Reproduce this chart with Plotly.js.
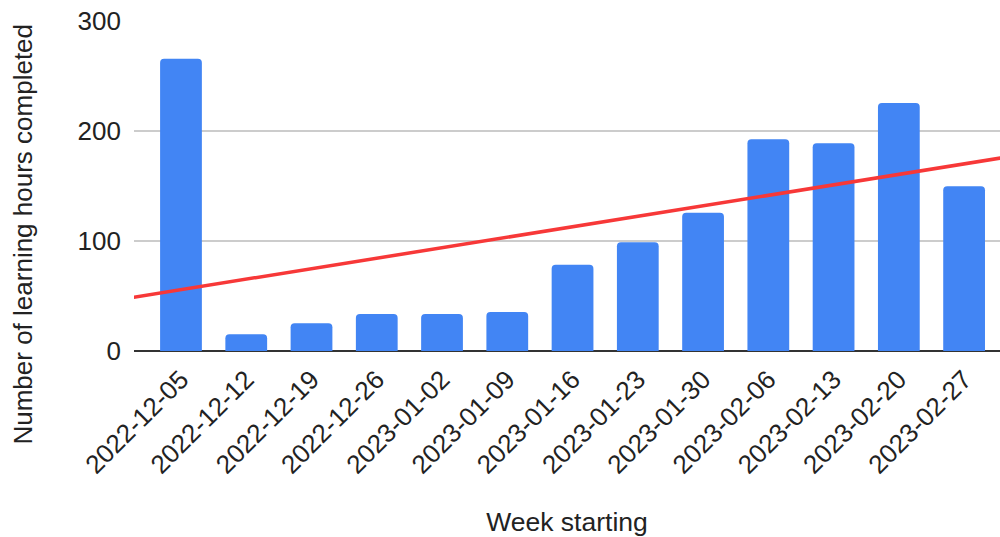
<!DOCTYPE html>
<html>
<head>
<meta charset="utf-8">
<script src="https://cdn.plot.ly/plotly-3.0.1.min.js"></script>
<style>html,body{margin:0;padding:0;background:#fff;}#chart{width:1000px;height:537px;}</style>
</head>
<body>
<div id="chart"></div>
<script>
const weeks = ["2022-12-05","2022-12-12","2022-12-19","2022-12-26","2023-01-02","2023-01-09","2023-01-16","2023-01-23","2023-01-30","2023-02-06","2023-02-13","2023-02-20","2023-02-27"];
const hours = [265.6, 15.3, 25.3, 33.6, 33.6, 35.4, 78.4, 98.8, 125.6, 192.5, 188.8, 225.4, 149.8];
const yTicks = [0, 100, 200, 300];
const xTitle = "Week starting";
const yTitle = "Number of learning hours completed";

const idx = weeks.map((w, i) => i);
// linear regression trendline
const n = hours.length;
const mx = idx.reduce((a, b) => a + b, 0) / n;
const my = hours.reduce((a, b) => a + b, 0) / n;
let sxy = 0, sxx = 0;
for (let i = 0; i < n; i++) { sxy += (idx[i] - mx) * (hours[i] - my); sxx += (idx[i] - mx) * (idx[i] - mx); }
const slope = sxy / sxx;
const xRange = [-0.72, 12.55];
const trendX = [xRange[0] - 1, xRange[1] + 1];
const trendY = trendX.map(x => my + slope * (x - mx));

const font = "Liberation Sans, Arial, sans-serif";

Plotly.newPlot("chart", [
  {
    type: "bar",
    x: idx,
    y: hours,
    marker: { color: "#4285F4", cornerradius: 4 },
    hoverinfo: "x+y"
  },
  {
    type: "scatter",
    mode: "lines",
    x: trendX,
    y: trendY,
    line: { color: "#F73838", width: 3.5 },
    hoverinfo: "skip"
  }
], {
  width: 1000,
  height: 537,
  margin: { l: 134, r: 0, t: 21, b: 186 },
  paper_bgcolor: "#fff",
  plot_bgcolor: "#fff",
  showlegend: false,
  bargap: 0.36,
  font: { family: font, color: "#222", size: 26 },
  xaxis: {
    type: "linear",
    range: xRange,
    tickvals: idx,
    ticktext: weeks,
    tickangle: -45,
    showgrid: false,
    zeroline: false,
    showline: false,
    ticks: "",
    ticklabelstandoff: 7,
    tickfont: { size: 26, color: "#222" },
    title: { text: xTitle, font: { size: 26.5, color: "#222" }, standoff: 40 },
    automargin: false
  },
  yaxis: {
    range: [0, 300],
    tickvals: yTicks,
    showgrid: true,
    gridcolor: "#CCCCCC",
    gridwidth: 1.5,
    zeroline: true,
    zerolinecolor: "#333333",
    zerolinewidth: 2.5,
    showline: false,
    ticks: "",
    ticklabelstandoff: 12,
    tickfont: { size: 26, color: "#222" },
    automargin: false
  },
  annotations: [{
    text: yTitle,
    xref: "paper", yref: "paper",
    x: -0.1293, y: 0.353,
    xanchor: "center", yanchor: "middle",
    textangle: -90,
    showarrow: false,
    font: { size: 26, color: "#222", family: font }
  }]
}, { displayModeBar: false, staticPlot: true });
</script>
</body>
</html>
